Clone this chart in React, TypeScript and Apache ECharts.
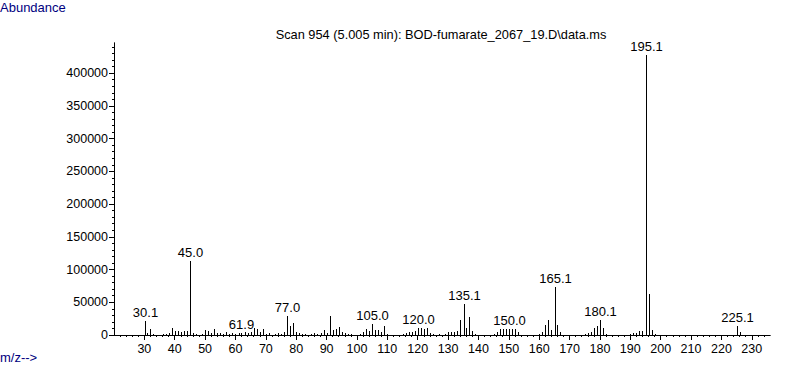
import React, { useEffect, useRef } from "react";
import * as echarts from "echarts";

const titleText = "Scan 954 (5.005 min): BOD-fumarate_2067_19.D\\data.ms";
const yAxisName = "Abundance";
const xAxisName = "m/z-->";

const mz = [
  30.1, 31, 32, 33, 36, 37, 38, 39, 40, 41, 42, 43, 44, 45.0, 46, 47, 49, 50, 51, 52, 53, 54, 55, 56, 57, 58, 59, 60, 61, 61.9,
  63, 64, 65, 66, 67, 68, 69, 70, 71, 73, 74, 75, 76, 77.0, 78, 79, 80, 81, 82, 83, 85, 86, 87, 88, 89, 90, 91, 92, 93, 94,
  95, 96, 97, 98, 101, 102, 103, 104, 105.0, 106, 107, 108, 109, 110, 115, 116, 117, 118, 119, 120.0, 121, 122, 123, 124, 125, 127, 129, 130,
  131, 132, 133, 134, 135.1, 136, 137, 138, 139, 145, 146, 147, 148, 149, 150.0, 151, 152, 153, 160, 161, 162, 163, 164, 165.1, 166, 167,
  175, 176, 177, 178, 179, 180.1, 181, 182, 190, 191, 192, 193, 194, 195.1, 196, 197, 198, 225.1, 226,
];
const abundance = [
  22000, 3000, 8500, 2000, 1500, 2000, 3000, 10000, 6000, 6000, 5000, 6000, 6000, 113000, 3000, 1500, 2000, 7500, 6000, 3000, 9000, 2500, 3000, 2000, 4500, 2000, 3000, 1500, 3000, 2500,
  4500, 2500, 4500, 10000, 9000, 4000, 9000, 1500, 3000, 1500, 3000, 2000, 4500, 29000, 13000, 18000, 4000, 3000, 2000, 1500, 1500, 3000, 2000, 3000, 7500, 3500, 29500, 7000, 9000, 12000,
  4500, 3000, 1500, 2000, 1500, 4000, 9000, 6000, 17500, 7500, 7500, 5000, 13000, 2000, 2000, 3000, 4000, 4500, 6000, 10500, 10500, 9000, 10500, 3000, 1500, 2000, 1500, 4000,
  4000, 4500, 6000, 22500, 48000, 10000, 28000, 6000, 2000, 2000, 4500, 9000, 9000, 9000, 9000, 9000, 9000, 4000, 2000, 4500, 15000, 22500, 7500, 74000, 15000, 4000,
  2000, 3000, 4500, 10500, 13500, 22500, 10500, 2000, 1500, 3000, 3000, 6000, 6000, 428000, 63000, 7500, 1500, 14000, 4500,
];
const labeledMz = [30.1, 45.0, 61.9, 77.0, 105.0, 120.0, 135.1, 150.0, 165.1, 180.1, 195.1, 225.1];

const xMajorTicks = [30, 40, 50, 60, 70, 80, 90, 100, 110, 120, 130, 140, 150, 160, 170, 180, 190, 200, 210, 220, 230];
const yMajorTicks = [0, 50000, 100000, 150000, 200000, 250000, 300000, 350000, 400000];

const X_MIN = 20;
const X_MAX = 236;
const Y_MIN = 0;
const Y_MAX = 446000;

const xMinorTicks: number[] = [];
for (let v = X_MIN + 2; v < X_MAX; v += 2) xMinorTicks.push(v);
const yMinorTicks: number[] = [];
for (let v = Y_MIN; v < Y_MAX; v += 10000) yMinorTicks.push(v);

const FONT_FAMILY = "'Liberation Sans', Arial, sans-serif";
const NAVY = "#000080";

export default function App() {
  const ref = useRef<HTMLDivElement>(null);

  useEffect(() => {
    if (!ref.current) return;
    const chart = echarts.init(ref.current, undefined, { renderer: "svg" });
    const data = mz.map((m, i) => [m, abundance[i]]);

    const baseX = {
      type: "value" as const,
      min: X_MIN,
      max: X_MAX,
      position: "bottom" as const,
      splitLine: { show: false },
      axisLine: { show: true, onZero: false, lineStyle: { color: "#000", width: 1 } },
    };
    const baseY = {
      type: "value" as const,
      min: Y_MIN,
      max: Y_MAX,
      position: "left" as const,
      splitLine: { show: false },
      axisLine: { show: true, onZero: false, lineStyle: { color: "#000", width: 1 } },
    };

    chart.setOption({
      animation: false,
      backgroundColor: "#fff",
      grid: { left: 114, top: 43, width: 656, height: 292, containLabel: false },
      xAxis: [
        {
          ...baseX,
          axisTick: { show: true, length: 5, customValues: xMajorTicks, lineStyle: { color: "#000" } },
          axisLabel: {
            show: true,
            customValues: xMajorTicks,
            margin: 7,
            color: "#000",
            fontSize: 12.5,
            fontFamily: FONT_FAMILY,
            formatter: (v: number) => String(v),
          },
        },
        {
          ...baseX,
          axisTick: { show: true, length: 2, customValues: xMinorTicks, lineStyle: { color: "#000" } },
          axisLabel: { show: false },
        },
      ],
      yAxis: [
        {
          ...baseY,
          axisTick: { show: true, length: 5, customValues: yMajorTicks, lineStyle: { color: "#000" } },
          axisLabel: {
            show: true,
            customValues: yMajorTicks,
            margin: 6,
            color: "#000",
            fontSize: 12.5,
            fontFamily: FONT_FAMILY,
            formatter: (v: number) => String(v),
          },
        },
        {
          ...baseY,
          axisTick: { show: true, length: 2, customValues: yMinorTicks, lineStyle: { color: "#000" } },
          axisLabel: { show: false },
        },
      ],
      graphic: [
        {
          type: "text",
          left: 0,
          top: 1,
          style: { text: yAxisName, fill: NAVY, font: "13px 'Liberation Sans', Arial, sans-serif" },
        },
        {
          type: "text",
          left: 0,
          top: 351,
          style: { text: xAxisName, fill: NAVY, font: "13px 'Liberation Sans', Arial, sans-serif" },
        },
        {
          type: "text",
          x: 441,
          y: 34,
          style: {
            text: titleText,
            fill: "#000",
            textAlign: "center",
            textVerticalAlign: "middle",
            font: "12.8px 'Liberation Sans', Arial, sans-serif",
          },
        },
      ],
      series: [
        {
          type: "custom",
          xAxisIndex: 0,
          yAxisIndex: 0,
          clip: false,
          encode: { x: 0, y: 1 },
          data,
          renderItem: (params: any, api: any) => {
            const m = api.value(0);
            const v = api.value(1);
            const base = api.coord([m, 0]);
            const top = api.coord([m, v]);
            const x = Math.round(base[0]) + 0.5;
            const yTop = Math.round(top[1]);
            const children: any[] = [
              {
                type: "line",
                shape: { x1: x, y1: base[1], x2: x, y2: yTop },
                style: { stroke: "#000", lineWidth: 1 },
              },
            ];
            if (labeledMz.indexOf(m) >= 0) {
              children.push({
                type: "text",
                x: x,
                y: yTop - 2,
                style: {
                  text: m.toFixed(1),
                  textAlign: "center",
                  textVerticalAlign: "bottom",
                  fill: "#000",
                  font: `13px ${FONT_FAMILY}`,
                },
              });
            }
            return { type: "group", children };
          },
        },
      ],
    });

    return () => chart.dispose();
  }, []);

  return (
    <div
      ref={ref}
      style={{ position: "fixed", left: 0, top: 0, width: 787, height: 367, background: "#fff" }}
    />
  );
}
